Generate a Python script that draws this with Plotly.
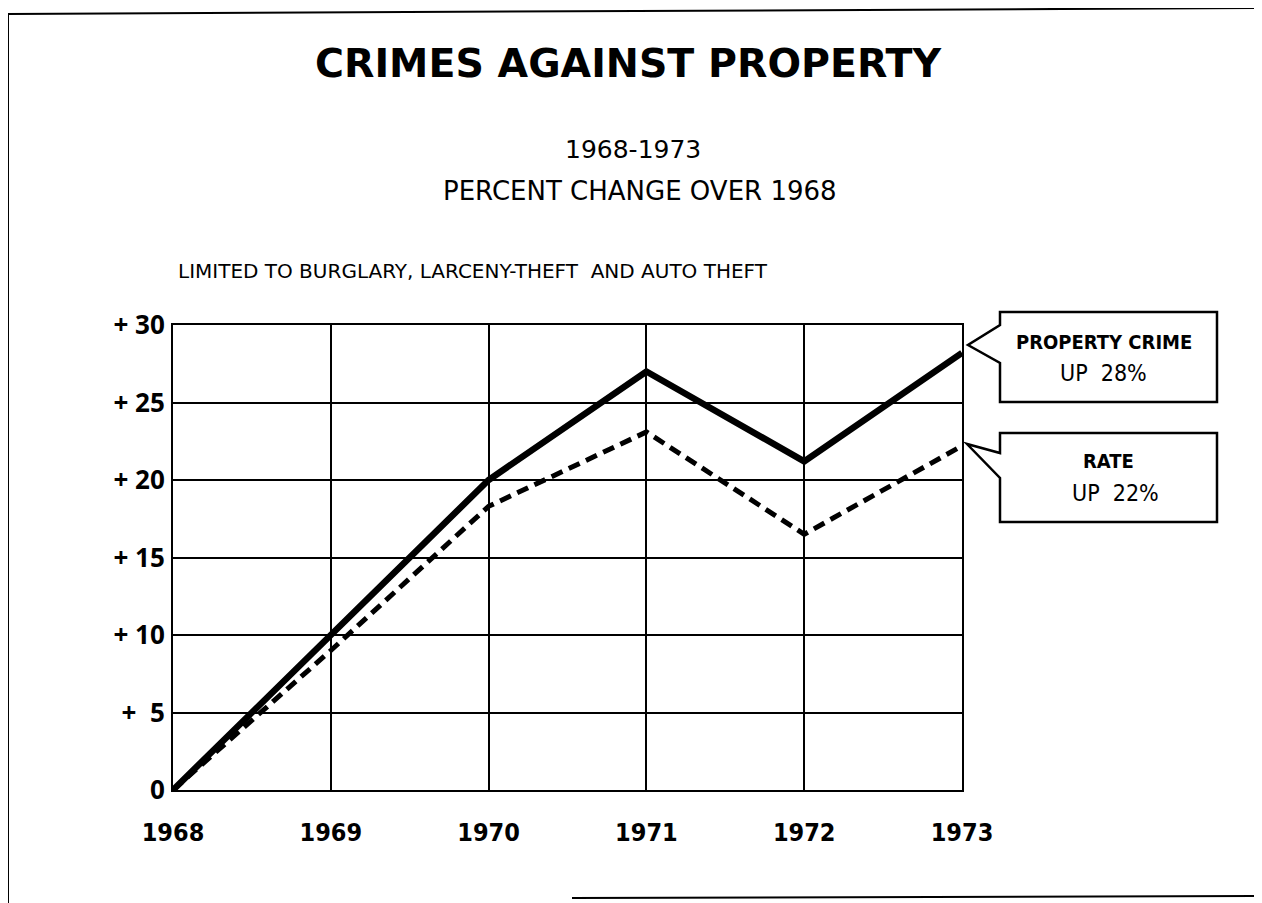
import plotly.graph_objects as go

# ---- data ----
years = [1968, 1969, 1970, 1971, 1972, 1973]
property_crime = [0, 10.0, 20.0, 27.0, 21.2, 28.2]
crime_rate = [0, 9.0, 18.3, 23.1, 16.5, 22.2]
y_ticks = [0, 5, 10, 15, 20, 25, 30]
y_tick_labels = ["0", "+  5", "+ 10", "+ 15", "+ 20", "+ 25", "+ 30"]
x_tick_labels = ["1968", "1969", "1970", "1971", "1972", "1973"]

OFF = 8  # page body margin in the browser
W, H = 1262 - OFF, 903 - OFF
# plot area in screenshot pixels
L, R, T, B = 173, 962, 325, 790

COND = "DejaVu Sans Condensed, Liberation Sans Narrow, Arial Narrow"

fig = go.Figure()
fig.add_trace(go.Scatter(x=years, y=crime_rate, mode="lines",
                         line=dict(color="black", width=5, dash="12px,7px"),
                         cliponaxis=False, showlegend=False))
fig.add_trace(go.Scatter(x=years, y=property_crime, mode="lines",
                         line=dict(color="black", width=6.5),
                         cliponaxis=False, showlegend=False))

fig.update_layout(
    width=W, height=H,
    paper_bgcolor="white", plot_bgcolor="white",
    margin=dict(l=L - OFF, r=1262 - R, t=T - OFF, b=903 - B, pad=0),
    xaxis=dict(range=[1968, 1973], tickvals=years, ticktext=x_tick_labels,
               showgrid=True, gridcolor="black", gridwidth=1.5,
               showline=True, linecolor="black", linewidth=2, mirror=True,
               zeroline=False, ticks="", ticklabelstandoff=19,
               tickfont=dict(family=COND, size=25, color="black", weight="bold")),
    yaxis=dict(range=[0, 30], tickvals=y_ticks, ticktext=y_tick_labels,
               showgrid=True, gridcolor="black", gridwidth=1.5,
               showline=True, linecolor="black", linewidth=2, mirror=True,
               zeroline=False, ticks="", ticklabelstandoff=1,
               tickfont=dict(family="Open Sans", size=26, color="black", weight="bold")),
)

def px(x, y):
    return (x - L) / (R - L), (B - y) / (B - T)

def ann(text, x, y, size, family="DejaVu Sans", weight="normal", xanchor="center"):
    ax, ay = px(x, y)
    fig.add_annotation(text=text, x=ax, y=ay, xref="paper", yref="paper",
                       xanchor=xanchor, yanchor="middle", showarrow=False,
                       font=dict(family=family, size=size, color="black", weight=weight))

ann("CRIMES AGAINST PROPERTY", 628, 63, 39.5, weight="bold")
ann("1968-1973", 633, 150, 25)
ann("PERCENT CHANGE OVER 1968", 640, 191, 26)
ann("LIMITED TO BURGLARY, LARCENY-THEFT  AND AUTO THEFT", 176, 271, 20, xanchor="left")

def callout(x0, y0, x1, y1, tip, base_top, base_bot):
    pts = [(x0, base_top), (x0, y0), (x1, y0), (x1, y1), (x0, y1), (x0, base_bot), tip, (x0, base_top)]
    path = "M " + " L ".join(f"{px(*p)[0]:.5f},{px(*p)[1]:.5f}" for p in pts) + " Z"
    fig.add_shape(type="path", path=path, xref="paper", yref="paper",
                  line=dict(color="black", width=2.5), fillcolor="white")

callout(1000, 312, 1217, 402, (968, 345), 325, 363)
callout(1000, 433, 1217, 522, (967, 444), 453, 478)

ann("PROPERTY CRIME", 1104, 342, 20, family=COND, weight="bold")
ann("UP  28%", 1103, 373, 23, family=COND)
ann("RATE", 1108, 461, 20, family=COND, weight="bold")
ann("UP  22%", 1115, 493, 23, family=COND)

def seg(xa, ya, xb, yb, w=2):
    a, b = px(xa, ya), px(xb, yb)
    fig.add_shape(type="line", x0=a[0], y0=a[1], x1=b[0], y1=b[1],
                  xref="paper", yref="paper", line=dict(color="black", width=w))

seg(8, 14, 1262, 8)
seg(8, 14, 8, 903)
seg(572, 898, 1262, 896)

fig.write_html("out.html")
